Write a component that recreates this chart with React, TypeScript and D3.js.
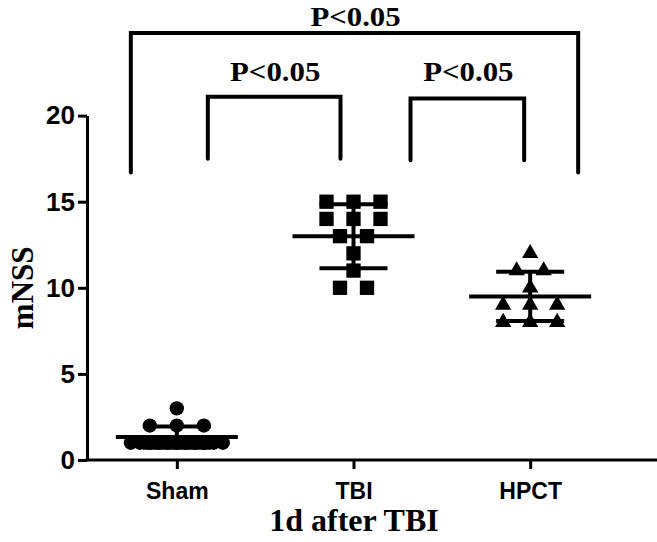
import React, { useEffect, useRef } from 'react';
import * as d3 from 'd3';

// scores (mNSS, 1 day after TBI)
const groups = ['Sham', 'TBI', 'HPCT'];
const shamScores = [1, 1, 1, 1, 1, 1, 1, 1, 1, 1, 1, 2, 2, 2, 3];
const tbiScores = [15, 15, 15, 14, 14, 14, 13, 13, 12, 11, 10, 10];
const hpctScores = [12, 11, 11, 10, 9, 9, 9, 8, 8, 8];
const yTicks = [0, 5, 10, 15, 20];
const pLabels = ['P<0.05', 'P<0.05', 'P<0.05'];

const SERIF = '"Times New Roman", "Liberation Serif", serif';
const SANS = 'Arial, "Liberation Sans", sans-serif';

// spread points sharing the same score sideways, centred on the group
function spread(values: number[], step: number, maxW: number) {
  const byValue = d3.group(values, v => v);
  const out: { v: number; dx: number }[] = [];
  byValue.forEach((arr, v) => {
    const n = arr.length;
    const s = n > 1 ? Math.min(step, maxW / (n - 1)) : 0;
    arr.forEach((_, i) => out.push({ v, dx: (i - (n - 1) / 2) * s }));
  });
  return out;
}

function App() {
  const svgRef = useRef<SVGSVGElement>(null);

  useEffect(() => {
    const svg = d3.select(svgRef.current);
    svg.selectAll('*').remove();

    const width = 657;
    const height = 542;

    const x = d3.scalePoint<string>()
      .domain(groups)
      .range([88.5, 618.5])
      .padding(0.5);
    const y = d3.scaleLinear()
      .domain([0, 20])
      .range([460, 115.6]);

    svg.attr('width', width).attr('height', height);
    svg.append('rect').attr('width', width).attr('height', height).attr('fill', '#fff');

    // Y axis
    const yAxis = svg.append('g')
      .attr('transform', 'translate(87,0)')
      .call(d3.axisLeft(y).tickValues(yTicks).tickSize(9).tickSizeOuter(0).tickPadding(3));
    yAxis.select('.domain').attr('stroke', '#000').attr('stroke-width', 3);
    yAxis.selectAll('.tick line').attr('stroke', '#000').attr('stroke-width', 3);
    yAxis.selectAll('.tick text')
      .attr('fill', '#000')
      .style('font-family', SANS)
      .style('font-weight', 'bold')
      .style('font-size', '26px');

    // X axis
    const xAxis = svg.append('g')
      .attr('transform', `translate(0,${y(0)})`)
      .call(d3.axisBottom(x).tickSize(9).tickSizeOuter(0).tickPadding(14));
    xAxis.select('.domain').attr('stroke', '#000').attr('stroke-width', 3)
      .attr('d', `M85.5,0H${width}`);
    xAxis.selectAll('.tick line').attr('stroke', '#000').attr('stroke-width', 3);
    xAxis.selectAll('.tick text')
      .attr('fill', '#000')
      .style('font-family', SANS)
      .style('font-weight', 'bold')
      .style('font-size', '23px');

    // axis titles
    svg.append('text')
      .attr('transform', `translate(33,${y(10)}) rotate(-90)`)
      .attr('text-anchor', 'middle')
      .style('font-family', SERIF)
      .style('font-weight', 'bold')
      .style('font-size', '31px')
      .text('mNSS');
    svg.append('text')
      .attr('x', 354)
      .attr('y', 531)
      .attr('text-anchor', 'middle')
      .style('font-family', SERIF)
      .style('font-weight', 'bold')
      .style('font-size', '32px')
      .text('1d after TBI');

    // points
    const series = [
      { name: 'Sham', data: shamScores, sym: d3.symbolCircle, size: 160 },
      { name: 'TBI', data: tbiScores, sym: d3.symbolSquare, size: 205 },
      { name: 'HPCT', data: hpctScores, sym: d3.symbolTriangle, size: 115 },
    ];

    series.forEach(s => {
      const cx = x(s.name)!;
      const pts = spread(s.data, 27, 92);
      svg.append('g').selectAll('path')
        .data(pts)
        .join('path')
        .attr('transform', d => `translate(${cx + d.dx},${y(d.v)})`)
        .attr('d', d3.symbol().type(s.sym).size(s.size)())
        .attr('fill', '#000');

      // mean +/- SD
      const m = d3.mean(s.data)!;
      const sd = d3.deviation(s.data)!;
      const g = svg.append('g').attr('stroke', '#000').attr('stroke-width', 4);
      g.append('line')
        .attr('x1', cx - 61).attr('x2', cx + 61)
        .attr('y1', y(m)).attr('y2', y(m));
      g.append('line')
        .attr('x1', cx).attr('x2', cx)
        .attr('y1', y(m - sd)).attr('y2', y(m + sd));
      [m - sd, m + sd].forEach(v => {
        g.append('line')
          .attr('x1', cx - 34).attr('x2', cx + 34)
          .attr('y1', y(v)).attr('y2', y(v));
      });
    });

    // significance brackets
    const brackets = [
      { x1: x('Sham')! - 46, x2: x('HPCT')! + 48, top: 24.8, bottom: 16.7, gap: 7, label: pLabels[0] },
      { x1: x('Sham')! + 31, x2: x('TBI')! - 13, top: 21.1, bottom: 17.5, gap: 16, label: pLabels[1] },
      { x1: x('TBI')! + 57, x2: x('HPCT')! - 6, top: 21.0, bottom: 17.4, gap: 17, label: pLabels[2] },
    ];
    brackets.forEach(b => {
      svg.append('path')
        .attr('d', `M${b.x1},${y(b.bottom)}V${y(b.top)}H${b.x2}V${y(b.bottom)}`)
        .attr('fill', 'none')
        .attr('stroke', '#000')
        .attr('stroke-width', 4)
        .attr('stroke-linecap', 'round');
      svg.append('text')
        .attr('transform', `translate(${(b.x1 + b.x2) / 2 + 1},${y(b.top) - b.gap}) scale(1.1,1)`)
        .attr('text-anchor', 'middle')
        .style('font-family', SERIF)
        .style('font-weight', 'bold')
        .style('font-size', '28px')
        .text(b.label);
    });
  }, []);

  return (
    <svg ref={svgRef} style={{ position: 'absolute', left: 0, top: 0 }} />
  );
}

export default App;
